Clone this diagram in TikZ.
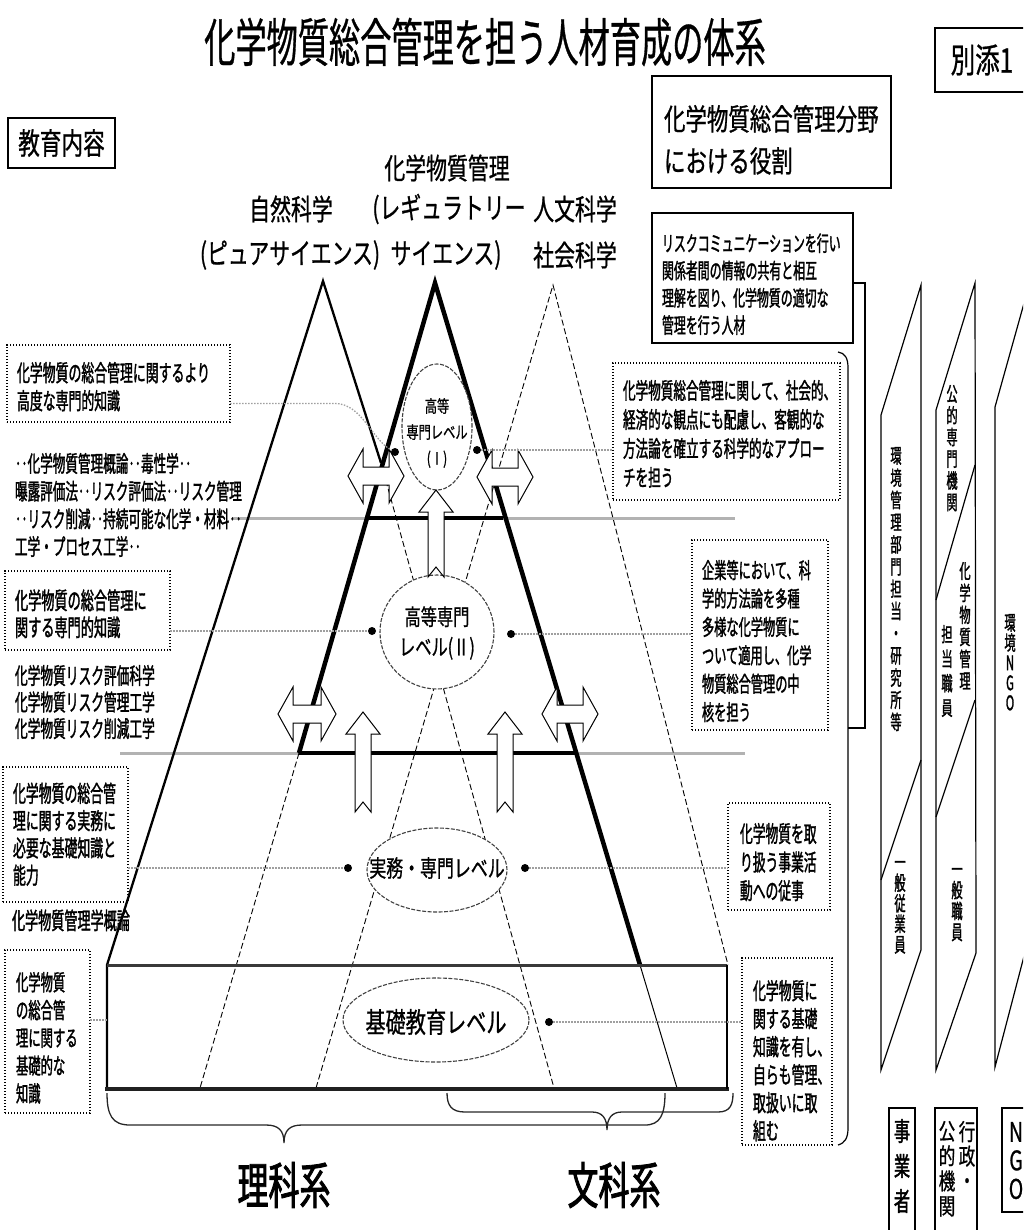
\documentclass[tikz,border=0pt]{standalone}
\usepackage{fontspec}
\setmainfont[FakeStretch=0.72,FakeBold=0.8]{Noto Sans CJK JP}
\newfontfamily\cond[FakeStretch=0.56,FakeBold=1.4]{Noto Sans CJK JP}
\newfontfamily\ttlfont[FakeStretch=0.6,FakeBold=0.6]{Noto Sans CJK JP}
\newfontfamily\heavyfont[FakeStretch=0.62,FakeBold=1.6]{Noto Sans CJK JP}
\newcommand{\myfs}[2]{\fontsize{#1pt}{#2pt}\selectfont}
\begin{document}
\begin{tikzpicture}[x=1pt,y=-1pt,
  every node/.style={inner sep=0pt,outer sep=0pt},
  tl/.style={anchor=north west,align=left},
  vt/.style={anchor=north,align=center},
  dbox/.style={draw,line width=1.1pt,dash pattern=on 1.3pt off 1.7pt,anchor=north west},
  sbox/.style={draw,line width=1.4pt,anchor=north west},
  lead/.style={draw=gray!75,line width=1.3pt,dash pattern=on 1.5pt off 1.5pt},
  tdash/.style={line width=0.9pt,dash pattern=on 6pt off 3pt},
  lvlE/.style={draw=black!75,fill=white,line width=1.1pt,dash pattern=on 4pt off 1.5pt},
  bdot/.style={circle,fill=black,minimum size=8pt},
  barrow/.style={draw,fill=white,line width=1pt,line join=miter},
  colline/.style={line width=1.2pt,line join=miter}
]
\useasboundingbox (0,0) rectangle (1023,1230);
\clip (0,0) rectangle (1023,1230);

% ---------- title and headings ----------
\node[font=\ttlfont\myfs{52}{56}] (title) at (485,42) {化学物質総合管理を担う人材育成の体系};
\node[sbox,minimum width=100pt,minimum height=64pt] (bettenbox) at (935,28) {};
\node[font=\myfs{34}{38}] (betten) at (982,60) {別添1};
\node[sbox,line width=1.8pt,minimum width=107pt,minimum height=50pt,font=\myfs{30}{34}] (kyoiku) at (8,118) {教育内容};
\node[sbox,line width=2.2pt,minimum width=239pt,minimum height=112pt] (yakuwari) at (652,76) {};
\node[tl,font=\myfs{29.8}{42}] (yakuwaritxt) at (664,105) {化学物質総合管理分野\\における役割};

\node[font=\myfs{29}{32}] (hA1) at (291,209) {自然科学};
\node[font=\myfs{29}{32}] (hA2) at (290,255) {(ピュアサイエンス)};
\node[font=\myfs{29}{32}] (hB0) at (447,168) {化学物質管理};
\node[font=\myfs{29}{32}] (hB1) at (449,209) {(レギュラトリー};
\node[font=\myfs{29}{32}] (hB2) at (446,255) {サイエンス)};
\node[font=\myfs{29}{32}] (hC1) at (575,209) {人文科学};
\node[font=\myfs{29}{32}] (hC2) at (575,255) {社会科学};

% ---------- level lines ----------
\draw[line width=3pt,gray!60] (232,518) -- (735,518);
\draw[line width=3pt,gray!60] (120,753) -- (745,753);

% left triangle (natural science)
\draw[line width=2.3pt,line join=miter] (107,1088) -- (107,965) -- (323,281) -- (381,463);
\draw[tdash] (381,463) -- (554,1088);
% right triangle (humanities)
\draw[tdash] (316,1088) -- (553,285) -- (728,965);
% middle triangle (regulatory science)
\draw[line width=4.5pt,line join=miter] (299,753) -- (435,283) -- (640,965);
\draw[line width=4.5pt] (299,753) -- (576,753);
\draw[line width=4.5pt] (368,518) -- (503,518);
\draw[tdash] (299,753) -- (200,1088);
\draw[line width=1pt] (640,965) -- (677,1088);
% base band
\draw[line width=3pt,gray!45!black] (107,965) -- (727,965);
\draw[line width=4.2pt,gray!25!black] (105,1089) -- (729,1089);
\draw[line width=1.2pt] (727,965) -- (727,1089);

% ---------- level ellipses ----------
\draw[lvlE] (437,427) ellipse [x radius=35pt,y radius=63pt];
\node[align=center,font=\myfs{17}{26}] (lv1) at (437,433) {高等\\専門レベル\\(Ⅰ)};
\draw[lvlE] (437,632) ellipse [x radius=57pt,y radius=57pt];
\node[align=center,font=\myfs{22.5}{30}] (lv2) at (437,633) {高等専門\\レベル(Ⅱ)};
\draw[lvlE] (437,870) ellipse [x radius=70pt,y radius=42pt];
\node[font=\myfs{23.5}{26}] (lv3) at (437,868) {実務・専門レベル};
\draw[lvlE] (436,1020) ellipse [x radius=93pt,y radius=42pt];
\node[font=\myfs{28}{30}] (lv4) at (436,1022) {基礎教育レベル};

% ---------- block arrows ----------
\draw[barrow] (436,490) -- (453,512) -- (444,512) -- (444,577) -- (436,567) -- (428,577) -- (428,512) -- (419,512) -- cycle;
\draw[barrow] (363,712) -- (380,734) -- (371,734) -- (371,812) -- (363,802) -- (355,812) -- (355,734) -- (346,734) -- cycle;
\draw[barrow] (505,712) -- (522,734) -- (513,734) -- (513,812) -- (505,802) -- (497,812) -- (497,734) -- (488,734) -- cycle;
\draw[barrow] (348,476) -- (363,449) -- (363,467) -- (389,467) -- (389,449) -- (404,476) -- (389,503) -- (389,485) -- (363,485) -- (363,503) -- cycle;
\draw[barrow] (477,477) -- (492,450) -- (492,468) -- (518,468) -- (518,450) -- (533,477) -- (518,504) -- (518,486) -- (492,486) -- (492,504) -- cycle;
\draw[barrow] (278,714) -- (293,687) -- (293,705) -- (321,705) -- (321,687) -- (336,714) -- (321,741) -- (321,723) -- (293,723) -- (293,741) -- cycle;
\draw[barrow] (542,714) -- (557,687) -- (557,705) -- (583,705) -- (583,687) -- (598,714) -- (583,741) -- (583,723) -- (557,723) -- (557,741) -- cycle;

% ---------- left column: contents ----------
\node[dbox,minimum width=223pt,minimum height=77pt] (boxA) at (7,345) {};
\node[tl,font=\cond\myfs{23}{28}] (boxAt) at (17,362) {化学物質の総合管理に関するより\\高度な専門的知識};
\node[tl,font=\cond\myfs{22.5}{27.7}] (subjA) at (15,453) {‥化学物質管理概論‥毒性学‥\\曝露評価法‥リスク評価法‥リスク管理\\‥リスク削減‥持続可能な化学・材料‥\\工学・プロセス工学‥};
\node[dbox,minimum width=165pt,minimum height=79pt] (boxB) at (5,571) {};
\node[tl,font=\cond\myfs{23.5}{27}] (boxBt) at (15,589.4) {化学物質の総合管理に\\関する専門的知識};
\node[tl,font=\cond\myfs{22.7}{26.5}] (subjB) at (15,665) {化学物質リスク評価科学\\化学物質リスク管理工学\\化学物質リスク削減工学};
\node[dbox,minimum width=125pt,minimum height=135pt] (boxC) at (3,767) {};
\node[tl,font=\cond\myfs{23}{27.3}] (boxCt) at (13,782.6) {化学物質の総合管\\理に関する実務に\\必要な基礎知識と\\能力};
\node[tl,font=\cond\myfs{23.4}{28}] (subjC) at (12,909.5) {化学物質管理学概論};
\node[dbox,minimum width=85pt,minimum height=163pt] (boxD) at (5,950) {};
\node[tl,font=\cond\myfs{22}{27.8}] (boxDt) at (16,972) {化学物質\\の総合管\\理に関する\\基礎的な\\知識};

% ---------- right column: roles ----------
\node[sbox,minimum width=201pt,minimum height=130pt] (R0) at (652,213) {};
\node[tl,font=\cond\myfs{21.3}{27.3}] (R0t) at (662,233.4) {リスクコミュニケーションを行い\\関係者間の情報の共有と相互\\理解を図り、化学物質の適切な\\管理を行う人材};
\node[dbox,minimum width=227pt,minimum height=137pt] (R1) at (613,363) {};
\node[tl,font=\cond\myfs{22.5}{29}] (R1t) at (623,380) {化学物質総合管理に関して、社会的、\\経済的な観点にも配慮し、客観的な\\方法論を確立する科学的なアプロー\\チを担う};
\node[dbox,minimum width=136pt,minimum height=190pt] (R2) at (692,540) {};
\node[tl,font=\cond\myfs{21.8}{28.4}] (R2t) at (702,560) {企業等において、科\\学的方法論を多種\\多様な化学物質に\\ついて適用し、化学\\物質総合管理の中\\核を担う};
\node[dbox,minimum width=102pt,minimum height=107pt] (R3) at (728,803) {};
\node[tl,font=\cond\myfs{22.8}{28.5}] (R3t) at (740,823) {化学物質を取\\り扱う事業活\\動への従事};
\node[dbox,minimum width=90pt,minimum height=187pt] (R4) at (742,958) {};
\node[tl,font=\cond\myfs{23}{28}] (R4t) at (753,980) {化学物質に\\関する基礎\\知識を有し、\\自らも管理、\\取扱いに取\\組む};

% bracket and brace
\draw[line width=1.2pt] ([yshift=-5pt]R0.east) -| (865,728) -- (848,728);
\draw[line width=1.2pt] (838,352) .. controls (845,353) and (848,358) .. (848,368) -- (848,1128) .. controls (848,1138) and (845,1143) .. (838,1145);

% ---------- dots and leaders ----------
\node[bdot] (bd1l) at (395,452) {};
\node[bdot] (bd1r) at (477,450) {};
\node[bdot] (bd2l) at (372,631) {};
\node[bdot] (bd2r) at (511,634) {};
\node[bdot] (bd3l) at (348,868) {};
\node[bdot] (bd3r) at (525,868) {};
\node[bdot] (bd4r) at (549,1022) {};
\coordinate (bandL) at (107,1020);

\draw[lead] ([yshift=-20pt]boxA.east) -- (335,403.5) .. controls (362,403.5) and (372,440) .. (bd1l);
\draw[lead] (bd1r) -- (bd1r -| R1.west);
\draw[lead] (bd2l -| boxB.east) -- (bd2l);
\draw[lead] (bd2r) -- (bd2r -| R2.west);
\draw[lead] (bd3l -| boxC.east) -- (bd3l);
\draw[lead] (bd3r) -- (bd3r -| R3.west);
\draw[lead] (bd4r) -- (bd4r -| R4.west);
\draw[lead] (bandL -| boxD.east) -- (bandL);

% ---------- braces at bottom ----------
\draw[line width=1.3pt,gray!30!black] (107,1093) .. controls (107,1115) and (112,1125) .. (130,1125) -- (266,1125) .. controls (278,1125) and (284,1130) .. (284,1143) .. controls (284,1130) and (290,1125) .. (302,1125) -- (645,1125) .. controls (660,1125) and (665,1115) .. (665,1093);
\draw[line width=1.3pt,gray!30!black] (447,1093) .. controls (447,1106) and (452,1112) .. (465,1112) -- (592,1112) .. controls (602,1112) and (607,1118) .. (607,1130) .. controls (607,1118) and (612,1112) .. (622,1112) -- (718,1112) .. controls (730,1112) and (733,1105) .. (733,1093);
\node[font=\heavyfont\myfs{50}{54}] (rika) at (284,1185) {理科系};
\node[font=\heavyfont\myfs{50}{54}] (bunka) at (614,1185) {文科系};

% ---------- far right: sectors ----------
\draw[colline] (921,285) -- (881,415) -- (881,1070) -- (921,950) -- cycle;
\draw[colline] (921,760) -- (881,880);
\draw[colline] (975,283) -- (936,410) -- (936,1070) -- (976,953) -- cycle;
\draw[colline] (975,465) -- (936,600);
\draw[colline] (975,700) -- (936,817);
\draw[colline] (1040,246) -- (995,407) -- (995,1067) -- (1040,895);

\node[vt,font=\cond\myfs{20}{22.2}] (v1) at (896,447) {環\\境\\管\\理\\部\\門\\担\\当\\・\\研\\究\\所\\等};
\node[vt,font=\cond\myfs{20}{20.6}] (v2) at (900,861) {一\\般\\従\\業\\員};
\node[vt,font=\cond\myfs{20}{21.7}] (v3) at (952,385) {公\\的\\専\\門\\機\\関};
\node[vt,font=\cond\myfs{20}{22}] (v4) at (965,562) {化\\学\\物\\質\\管\\理};
\node[vt,font=\cond\myfs{20}{24.5}] (v5) at (947,625) {担\\当\\職\\員};
\node[vt,font=\cond\myfs{20}{21}] (v6) at (957,868) {一\\般\\職\\員};
\node[vt,font=\cond\myfs{20}{20}] (v7) at (1010,614) {環\\境\\N\\G\\O};

\node[sbox,line width=1.2pt,minimum width=26pt,minimum height=140pt] (jigyobox) at (889,1108) {};
\node[vt,font=\heavyfont\myfs{26}{35}] (jigyo) at (902,1119) {事\\業\\者};
\node[sbox,line width=1.2pt,minimum width=42pt,minimum height=140pt] (gyoseibox) at (935,1108) {};
\node[vt,font=\myfs{23}{24.5}] (gyosei1) at (967,1121) {行\\政\\・};
\node[vt,font=\myfs{23}{25}] (gyosei2) at (947,1121) {公\\的\\機\\関};
\node[sbox,line width=1.2pt,minimum width=32pt,minimum height=104pt] (ngobox) at (1002,1108) {};
\node[vt,font=\myfs{27}{28.5}] (ngo) at (1016,1122) {N\\G\\O};
\end{tikzpicture}
\end{document}
